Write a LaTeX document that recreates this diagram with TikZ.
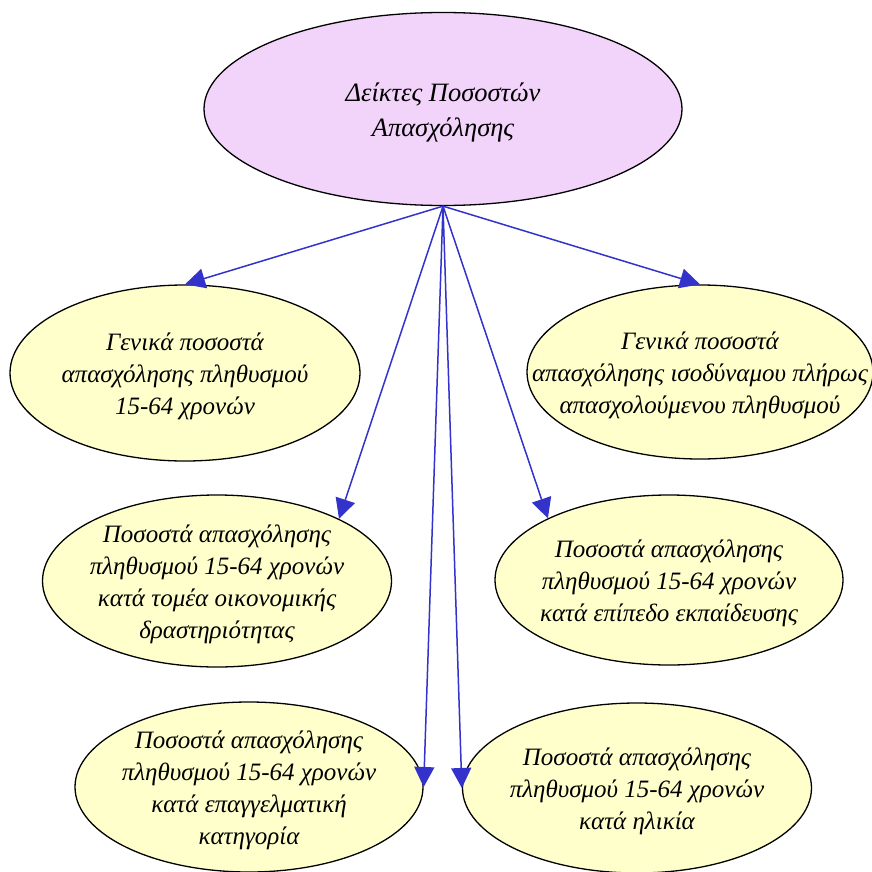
\documentclass[tikz,border=0pt]{standalone}
\usepackage{fontspec}
\setmainfont{Liberation Serif}
\usetikzlibrary{shapes.geometric,arrows.meta}
\definecolor{topfill}{HTML}{F2D4FA}
\definecolor{boxfill}{HTML}{FFFFCC}
\definecolor{arrowblue}{HTML}{3333CC}
\tikzset{
  oval/.style={ellipse, draw=black, line width=1.3pt, fill=boxfill, inner sep=0pt},
  ovaltext/.style={font=\fontsize{25}{32}\selectfont\itshape, align=center, inner sep=0pt, yshift=-3pt},
  link/.style={draw=arrowblue, line width=1.5pt, -{Triangle[length=20pt,width=20pt]}}
}
\begin{document}
\begin{tikzpicture}[x=1pt,y=-1pt]
\useasboundingbox (0,0) rectangle (871,872);
\node[oval, fill=topfill, minimum width=478pt, minimum height=193pt] (e1) at (443,109) {};
\node[ovaltext, font=\fontsize{26.5}{35}\selectfont\itshape, yshift=0pt] (t1) at (e1.center) {Δείκτες Ποσοστών\\Απασχόλησης};

\node[oval, minimum width=350pt, minimum height=176pt] (e2) at (185,373) {};
\node[ovaltext] (t2) at (e2.center) {Γενικά ποσοστά\\απασχόλησης πληθυσμού\\15-64 χρονών};

\node[oval, minimum width=346pt, minimum height=174pt] (e3) at (700,372) {};
\node[ovaltext] (t3) at (e3.center) {Γενικά ποσοστά\\απασχόλησης ισοδύναμου πλήρως\\απασχολούμενου πληθυσμού};

\node[oval, minimum width=349pt, minimum height=172pt] (e4) at (217,581) {};
\node[ovaltext] (t4) at (e4.center) {Ποσοστά απασχόλησης\\πληθυσμού 15-64 χρονών\\κατά τομέα οικονομικής\\δραστηριότητας};

\node[oval, minimum width=348pt, minimum height=170pt] (e5) at (669,580) {};
\node[ovaltext] (t5) at (e5.center) {Ποσοστά απασχόλησης\\πληθυσμού 15-64 χρονών\\κατά επίπεδο εκπαίδευσης};

\node[oval, minimum width=348pt, minimum height=170pt] (e6) at (249,787) {};
\node[ovaltext] (t6) at (e6.center) {Ποσοστά απασχόλησης\\πληθυσμού 15-64 χρονών\\κατά επαγγελματική\\κατηγορία};

\node[oval, minimum width=349pt, minimum height=170pt] (e7) at (637,788) {};
\node[ovaltext] (t7) at (e7.center) {Ποσοστά απασχόλησης\\πληθυσμού 15-64 χρονών\\κατά ηλικία};

\draw[link] (e1.south) -- (e2.north);
\draw[link] (e1.south) -- (e3.north);
\draw[link] (e1.south) -- (e4.27);
\draw[link] (e1.south) -- (e5.153);
\draw[link] (e1.south) -- (e6.east);
\draw[link] (e1.south) -- (e7.west);
\end{tikzpicture}
\end{document}
